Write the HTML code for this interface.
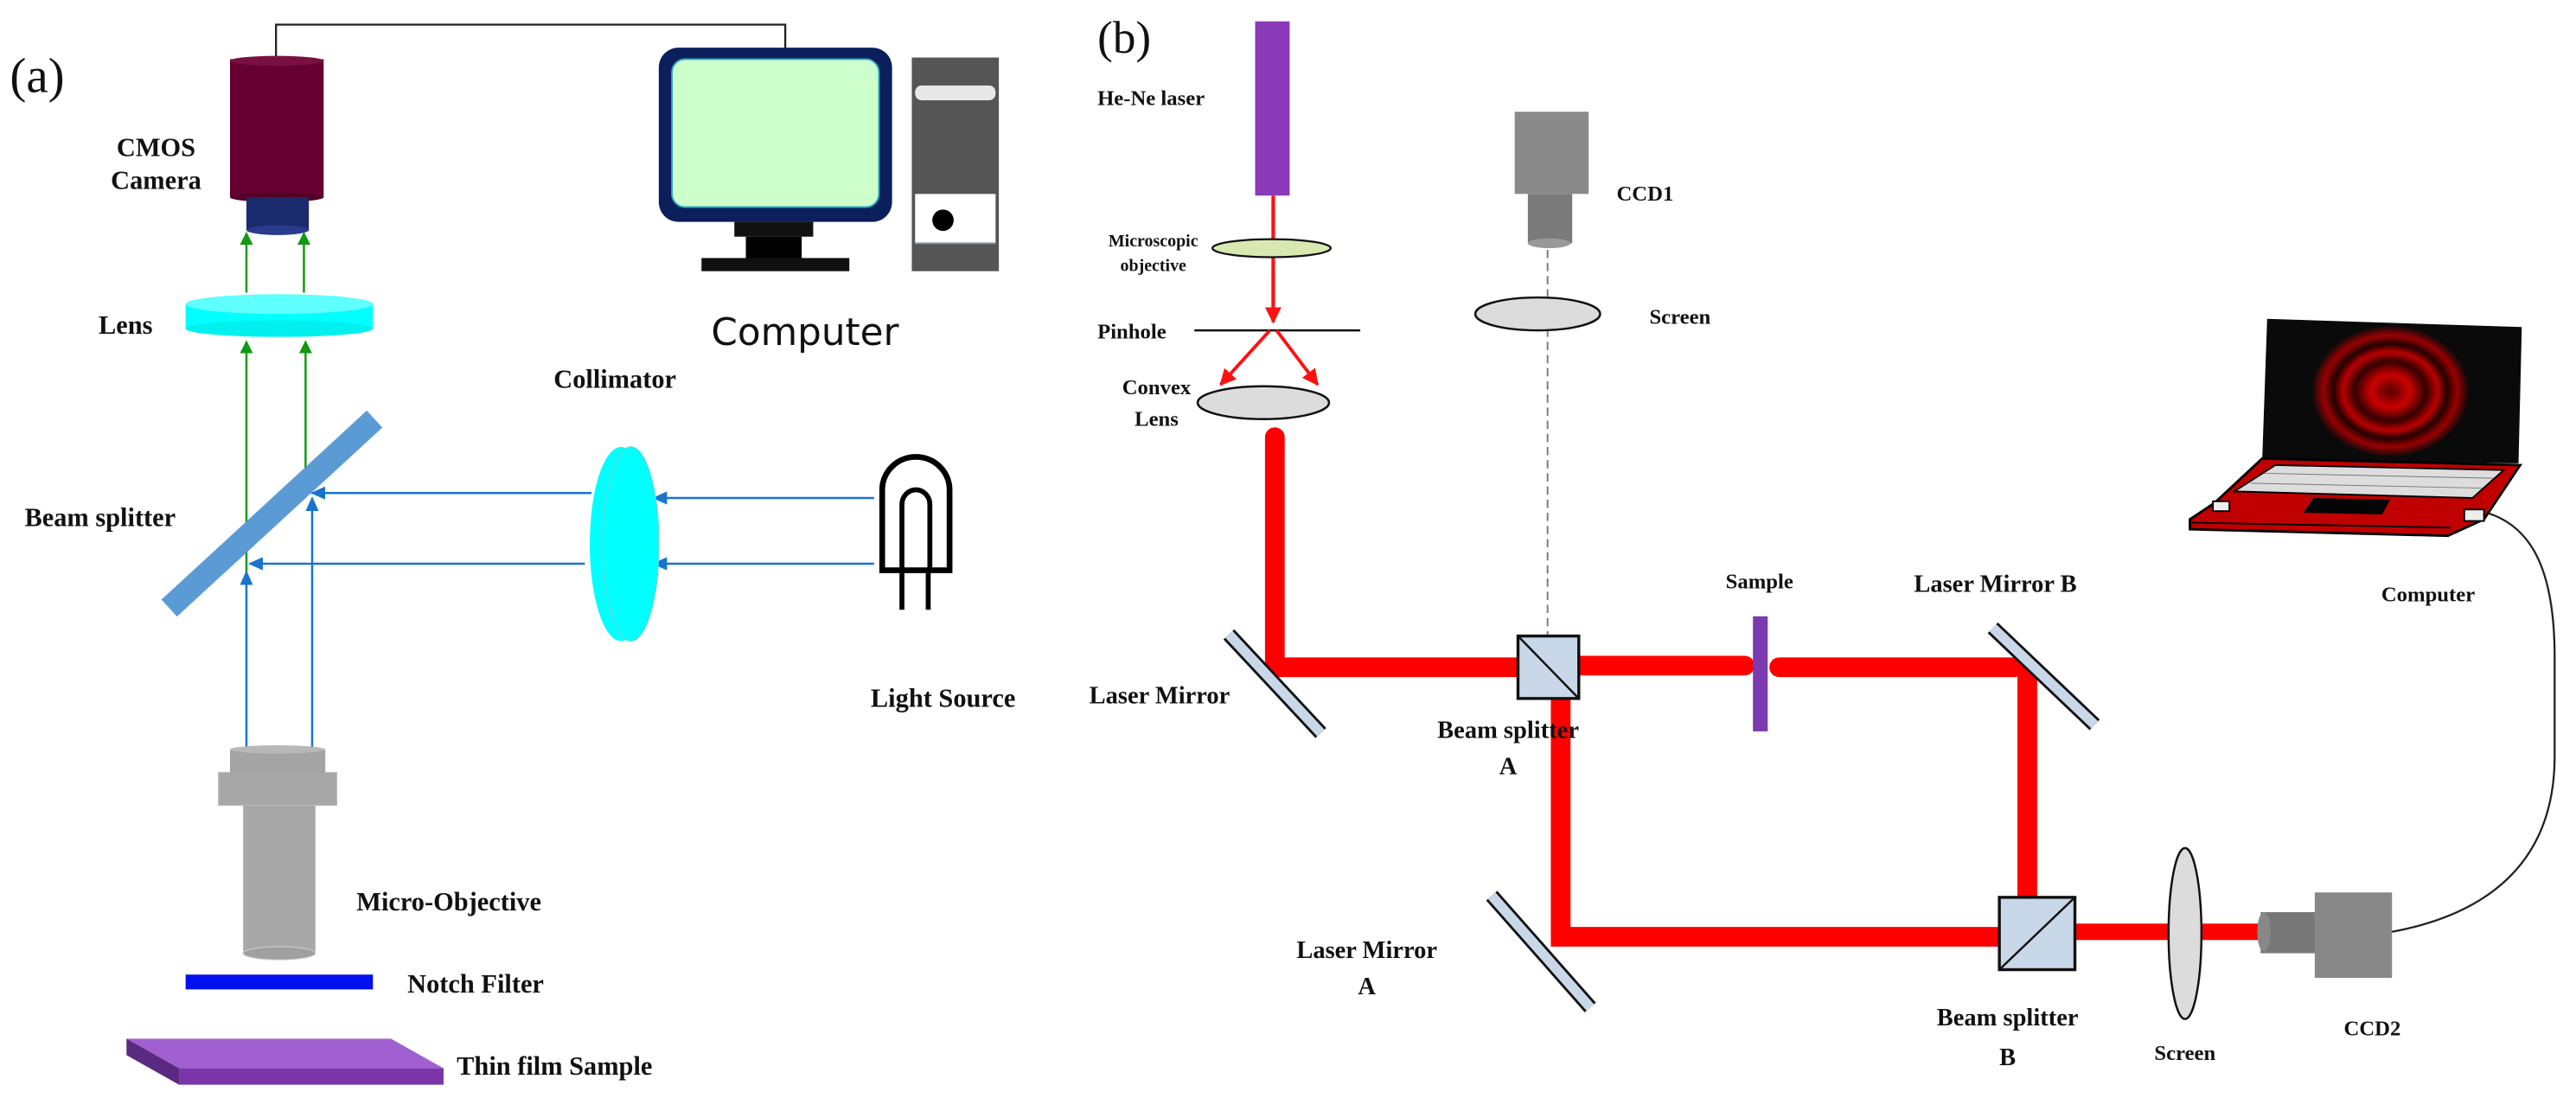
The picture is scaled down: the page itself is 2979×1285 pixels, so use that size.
<!DOCTYPE html>
<html><head><meta charset="utf-8"><style>
html,body{margin:0;padding:0;background:#fff;}
svg{display:block;}
text{font-family:"Liberation Serif",serif;font-weight:bold;fill:#111;}
</style></head><body>
<svg width="2979" height="1285" viewBox="0 0 1568 676" preserveAspectRatio="none" xmlns="http://www.w3.org/2000/svg">
<defs>
<marker id="ag" markerWidth="8" markerHeight="8" refX="7" refY="4" orient="auto" markerUnits="userSpaceOnUse"><path d="M0,0 L8,4 L0,8 z" fill="#119911"/></marker>
<marker id="ab" markerWidth="9" markerHeight="8" refX="8" refY="4" orient="auto-start-reverse" markerUnits="userSpaceOnUse"><path d="M0,0 L9,4 L0,8 z" fill="#1874cd"/></marker>
<marker id="ar" markerWidth="10" markerHeight="10" refX="9" refY="5" orient="auto" markerUnits="userSpaceOnUse"><path d="M0,0 L10,5 L0,10 z" fill="#ff1010"/></marker>
<radialGradient id="rings" cx="50%" cy="50%" r="50%">
<stop offset="0" stop-color="#500"/><stop offset="0.25" stop-color="#c00"/><stop offset="0.45" stop-color="#300"/><stop offset="0.6" stop-color="#b00"/><stop offset="0.72" stop-color="#200"/><stop offset="0.85" stop-color="#900"/><stop offset="1" stop-color="#0a0a0a"/>
</radialGradient>
</defs>

<!-- (a) -->
<text x="6" y="56" font-size="30" style="font-weight:normal">(a)</text>
<polyline points="168,40 168,15 478,15 478,30" fill="none" stroke="#222" stroke-width="1.2"/>
<rect x="140" y="36" width="57" height="84" fill="#660033"/>
<ellipse cx="168.5" cy="37" rx="28.5" ry="3" fill="#7a1040"/>
<ellipse cx="168.5" cy="120" rx="28.5" ry="3" fill="#550028"/>
<rect x="150" y="120" width="38" height="20" fill="#1a2a6c"/>
<ellipse cx="169" cy="140" rx="19" ry="3" fill="#2a3a8c"/>
<text x="95" y="95" font-size="16" text-anchor="middle">CMOS</text>
<text x="95" y="115" font-size="16" text-anchor="middle">Camera</text>
<rect x="113" y="185" width="114" height="15" fill="#00ffff"/>
<ellipse cx="170" cy="185" rx="57" ry="6" fill="#5fffff"/>
<ellipse cx="170" cy="200" rx="57" ry="5" fill="#00f0f0"/>
<text x="60" y="203" font-size="16">Lens</text>
<line x1="150" y1="178" x2="150" y2="142" stroke="#119911" stroke-width="1.3" marker-end="url(#ag)"/>
<line x1="185" y1="178" x2="185" y2="142" stroke="#119911" stroke-width="1.3" marker-end="url(#ag)"/>
<line x1="150" y1="348" x2="150" y2="208" stroke="#119911" stroke-width="1.3" marker-end="url(#ag)"/>
<line x1="186" y1="297" x2="186" y2="208" stroke="#119911" stroke-width="1.3" marker-end="url(#ag)"/>
<line x1="103" y1="370" x2="228" y2="255" stroke="#5b9bd5" stroke-width="14"/>
<text x="15" y="320" font-size="16">Beam splitter</text>
<line x1="360" y1="300" x2="190" y2="300" stroke="#1874cd" stroke-width="1.3" marker-end="url(#ab)"/>
<line x1="356" y1="343" x2="152" y2="343" stroke="#1874cd" stroke-width="1.3" marker-end="url(#ab)"/>
<line x1="532" y1="303" x2="398" y2="303" stroke="#1874cd" stroke-width="1.3" marker-end="url(#ab)"/>
<line x1="532" y1="343" x2="398" y2="343" stroke="#1874cd" stroke-width="1.3" marker-end="url(#ab)"/>
<line x1="150" y1="348" x2="150" y2="466" stroke="#1874cd" stroke-width="1.3" marker-start="url(#ab)" marker-end="url(#ab)"/>
<line x1="190" y1="303" x2="190" y2="466" stroke="#1874cd" stroke-width="1.3" marker-start="url(#ab)" marker-end="url(#ab)"/>
<ellipse cx="378" cy="331" rx="19" ry="59" fill="#00ffff"/>
<ellipse cx="384" cy="331" rx="17" ry="59" fill="#00ffff" stroke="#55dddd" stroke-width="0.8"/>
<text x="337" y="236" font-size="16">Collimator</text>
<path d="M537,347 L537,298 A20.5,20 0 0 1 578,298 L578,347 Z" fill="none" stroke="#000" stroke-width="3.5"/>
<path d="M549,347 L549,307 A8.5,9 0 0 1 566,307 L566,347" fill="none" stroke="#000" stroke-width="3"/>
<line x1="549" y1="347" x2="549" y2="371" stroke="#000" stroke-width="3"/>
<line x1="565" y1="347" x2="565" y2="371" stroke="#000" stroke-width="3"/>
<text x="530" y="430" font-size="16">Light Source</text>
<rect x="148" y="488" width="44" height="92" fill="#a8a8a8"/>
<ellipse cx="170" cy="580" rx="22" ry="4" fill="#a0a0a0" stroke="#ccc" stroke-width="0.6"/>
<rect x="133" y="470" width="72" height="20" fill="#a8a8a8" stroke="#bbb" stroke-width="0.6"/>
<rect x="140" y="456" width="58" height="15" fill="#a4a4a4"/>
<ellipse cx="169" cy="456" rx="29" ry="2.5" fill="#b8b8b8"/>
<text x="217" y="554" font-size="16">Micro-Objective</text>
<rect x="113" y="593" width="114" height="9" fill="#0010ee"/>
<text x="248" y="604" font-size="16">Notch Filter</text>
<polygon points="77,632 238,632 270,650 109,650" fill="#a060d0"/>
<polygon points="109,650 270,650 270,660 109,660" fill="#7a36a8"/>
<polygon points="77,632 109,650 109,660 77,642" fill="#5a2a80"/>
<text x="278" y="654" font-size="16">Thin film Sample</text>
<rect x="401" y="29" width="142" height="106" rx="12" fill="#0a1f5c"/>
<rect x="409" y="36" width="126" height="90" rx="8" fill="#ccffcc" stroke="#3ab" stroke-width="1"/>
<rect x="447" y="135" width="48" height="9" fill="#111"/>
<rect x="454" y="144" width="34" height="14" fill="#000"/>
<rect x="427" y="157" width="90" height="8" fill="#111"/>
<rect x="555" y="35" width="53" height="130" fill="#555"/>
<rect x="557" y="52" width="49" height="9" rx="4" fill="#e8e8e8"/>
<rect x="557" y="118" width="49" height="30" fill="#fff"/>
<circle cx="574" cy="134" r="6.5" fill="#000"/>
<line x1="557" y1="148" x2="606" y2="148" stroke="#89a" stroke-width="1"/>
<text x="490" y="210" font-size="23" text-anchor="middle" style="font-weight:normal;font-family:'DejaVu Sans',sans-serif">Computer</text>

<!-- (b) -->
<text x="668" y="32" font-size="28" style="font-weight:normal">(b)</text>
<rect x="764" y="13" width="21" height="106" fill="#8a3ab8"/>
<text x="668" y="64" font-size="13">He-Ne laser</text>
<line x1="775" y1="119" x2="775" y2="196" stroke="#ff1010" stroke-width="2.2" marker-end="url(#ar)"/>
<ellipse cx="774" cy="151" rx="36" ry="5.5" fill="#d9e8b0" stroke="#111" stroke-width="1.2"/>
<text x="702" y="150" font-size="10.5" text-anchor="middle">Microscopic</text>
<text x="702" y="165" font-size="10.5" text-anchor="middle">objective</text>
<line x1="727" y1="201" x2="828" y2="201" stroke="#111" stroke-width="1.3"/>
<text x="668" y="206" font-size="13">Pinhole</text>
<line x1="773" y1="201" x2="743" y2="234" stroke="#ff1010" stroke-width="2" marker-end="url(#ar)"/>
<line x1="777" y1="201" x2="802" y2="234" stroke="#ff1010" stroke-width="2" marker-end="url(#ar)"/>
<ellipse cx="769" cy="245" rx="40" ry="10" fill="#dcdcdc" stroke="#111" stroke-width="1.3"/>
<text x="704" y="240" font-size="13" text-anchor="middle">Convex</text>
<text x="704" y="259" font-size="13" text-anchor="middle">Lens</text>
<g stroke="#ff0000" stroke-width="12" fill="none" stroke-linecap="round" stroke-linejoin="miter">
<polyline points="776,266 776,406 925,406"/>
<line x1="962" y1="405" x2="1062" y2="405"/>
<line x1="1083" y1="406" x2="1226" y2="406"/>
<line x1="1234" y1="406" x2="1234" y2="545"/>
<polyline points="950,425 950,570 1216,570"/>
</g>
<line x1="1263" y1="567" x2="1376" y2="567" stroke="#ff0000" stroke-width="10"/>
<line x1="942" y1="152" x2="942" y2="387" stroke="#777" stroke-width="1" stroke-dasharray="5,3"/>
<rect x="922" y="68" width="45" height="50" fill="#8a8a8a"/>
<rect x="930" y="118" width="27" height="30" fill="#7a7a7a"/>
<ellipse cx="943" cy="148" rx="13" ry="3" fill="#999"/>
<text x="984" y="122" font-size="13">CCD1</text>
<ellipse cx="936" cy="191" rx="38" ry="10" fill="#dcdcdc" stroke="#111" stroke-width="1.3"/>
<text x="1004" y="197" font-size="13">Screen</text>
<line x1="748" y1="386" x2="804" y2="446" stroke="#111" stroke-width="9"/>
<line x1="748" y1="386" x2="804" y2="446" stroke="#c8d8e8" stroke-width="6"/>
<text x="663" y="428" font-size="15">Laser Mirror</text>
<line x1="1213" y1="382" x2="1275" y2="441" stroke="#111" stroke-width="9"/>
<line x1="1213" y1="382" x2="1275" y2="441" stroke="#c8d8e8" stroke-width="6"/>
<text x="1165" y="360" font-size="15">Laser Mirror B</text>
<line x1="908" y1="545" x2="968" y2="613" stroke="#111" stroke-width="9"/>
<line x1="908" y1="545" x2="968" y2="613" stroke="#c8d8e8" stroke-width="6"/>
<text x="832" y="583" font-size="15" text-anchor="middle">Laser Mirror</text>
<text x="832" y="605" font-size="15" text-anchor="middle">A</text>
<rect x="924" y="387" width="37" height="38" fill="#c8d8e8" stroke="#111" stroke-width="1.8"/>
<line x1="924" y1="387" x2="961" y2="425" stroke="#111" stroke-width="1.3"/>
<text x="918" y="449" font-size="15" text-anchor="middle">Beam splitter</text>
<text x="918" y="471" font-size="15" text-anchor="middle">A</text>
<rect x="1067" y="375" width="9" height="70" fill="#7b3ab0"/>
<text x="1071" y="358" font-size="13" text-anchor="middle">Sample</text>
<rect x="1217" y="546" width="46" height="44" fill="#c8d8e8" stroke="#111" stroke-width="1.8"/>
<line x1="1217" y1="590" x2="1263" y2="546" stroke="#111" stroke-width="1.3"/>
<text x="1222" y="624" font-size="15" text-anchor="middle">Beam splitter</text>
<text x="1222" y="648" font-size="15" text-anchor="middle">B</text>
<ellipse cx="1330" cy="568" rx="10" ry="52" fill="#dcdcdc" stroke="#111" stroke-width="1.3"/>
<text x="1330" y="645" font-size="13" text-anchor="middle">Screen</text>
<rect x="1376" y="555" width="33" height="25" fill="#777"/>
<ellipse cx="1378" cy="567" rx="4" ry="12" fill="#888"/>
<rect x="1409" y="543" width="47" height="52" fill="#888"/>
<text x="1444" y="630" font-size="13" text-anchor="middle">CCD2</text>
<!-- cable -->
<path d="M1456,567 C1520,555 1555,520 1555,460 L1555,400 C1555,345 1540,318 1510,311" fill="none" stroke="#222" stroke-width="1.2"/>
<!-- laptop -->
<polygon points="1380,194 1535,199 1533,282 1377,280" fill="#0a0a0a"/>
<ellipse cx="1455" cy="238" rx="48" ry="40" fill="url(#rings)"/>
<polygon points="1377,279 1534,283 1512,316 1490,326 1333,322 1333,316 1348,306" fill="#c00000" stroke="#000" stroke-width="1.5"/>
<polygon points="1385,283 1524,286 1505,303 1360,299" fill="#ddd" stroke="#000" stroke-width="1"/>
<g stroke="#777" stroke-width="0.5">
<line x1="1378" y1="288" x2="1518" y2="291"/><line x1="1370" y1="294" x2="1511" y2="297"/>
</g>
<polygon points="1408,303 1455,304 1450,313 1402,312" fill="#050505"/>
<line x1="1334" y1="318" x2="1492" y2="321" stroke="#000" stroke-width="1"/>
<rect x="1500" y="310" width="12" height="7" fill="#eee" stroke="#000" stroke-width="1"/>
<rect x="1347" y="305" width="10" height="6" fill="#eee" stroke="#000" stroke-width="1"/>
<text x="1478" y="366" font-size="13" text-anchor="middle">Computer</text>
</svg>
</body></html>
